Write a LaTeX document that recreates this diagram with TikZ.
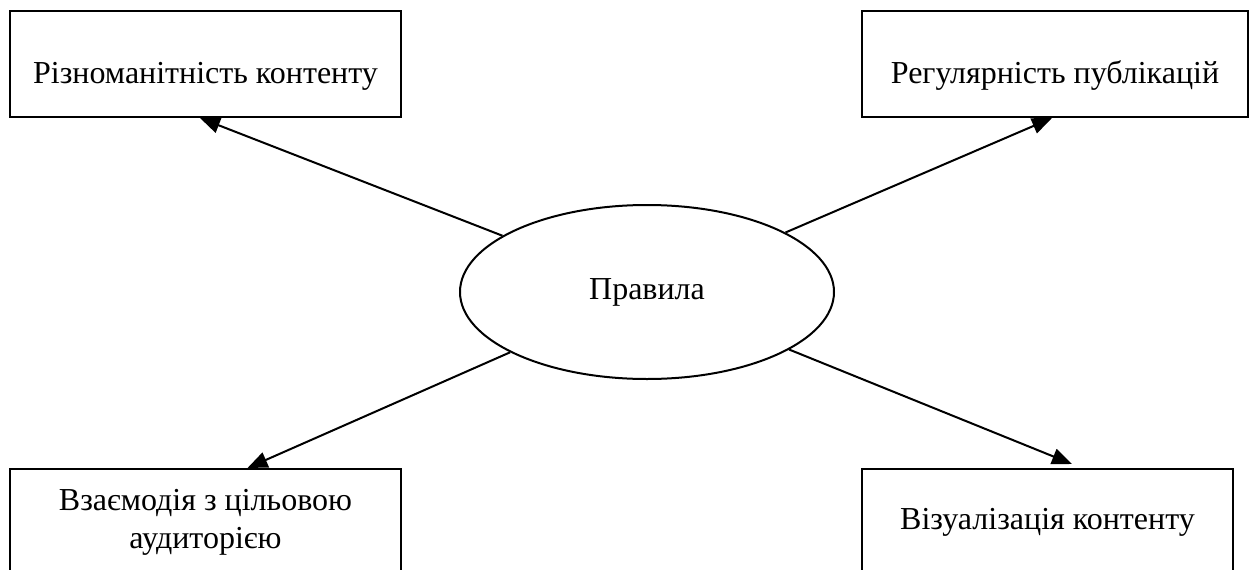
\documentclass[tikz,border=0pt]{standalone}
\usepackage{fontspec}
\setmainfont{Liberation Serif}
\usetikzlibrary{shapes.geometric,arrows.meta}

\tikzset{
	box/.style={draw, line width=2pt, minimum height=106pt, inner sep=0pt, align=center, font=\fontsize{32}{38}\selectfont},
	topbox/.style={box, text height=46pt, text depth=8pt},
	arr/.style={line width=2pt, -{Triangle[length=20pt,width=16pt]}}
}

\begin{document}
\begin{tikzpicture}[x=1pt, y=-1pt]
			%%%%% START %%%%%
			
			\useasboundingbox (0, 0) rectangle (1258, 570);
			\clip (0, 0) rectangle (1258, 570);
			
			\node[draw, ellipse, line width=2pt, minimum width=374pt, minimum height=174pt, inner sep=0pt, font=\fontsize{32}{38}\selectfont] (rules) at (647, 292) {Правила};
			
			\node[topbox, minimum width=391pt] (variety) at (205.5, 64) {Різноманітність контенту};
			\node[topbox, minimum width=386pt] (regular) at (1055, 64) {Регулярність публікацій};
			\node[box, minimum width=391pt] (audience) at (205.5, 522) {Взаємодія з цільовою\\аудиторією};
			\node[box, minimum width=371pt] (visual) at (1047.5, 522) {Візуалізація контенту};
			
			\draw[arr] (rules) -- ([xshift=-5.5pt]variety.south);
			\draw[arr] (rules) -- ([xshift=-3pt]regular.south);
			\draw[arr] (rules) -- ([xshift=42pt]audience.north);
			\draw[arr] (rules) -- ([xshift=24.5pt, yshift=4pt]visual.north);
			
			%%%%% END %%%%%
\end{tikzpicture}
\end{document}
